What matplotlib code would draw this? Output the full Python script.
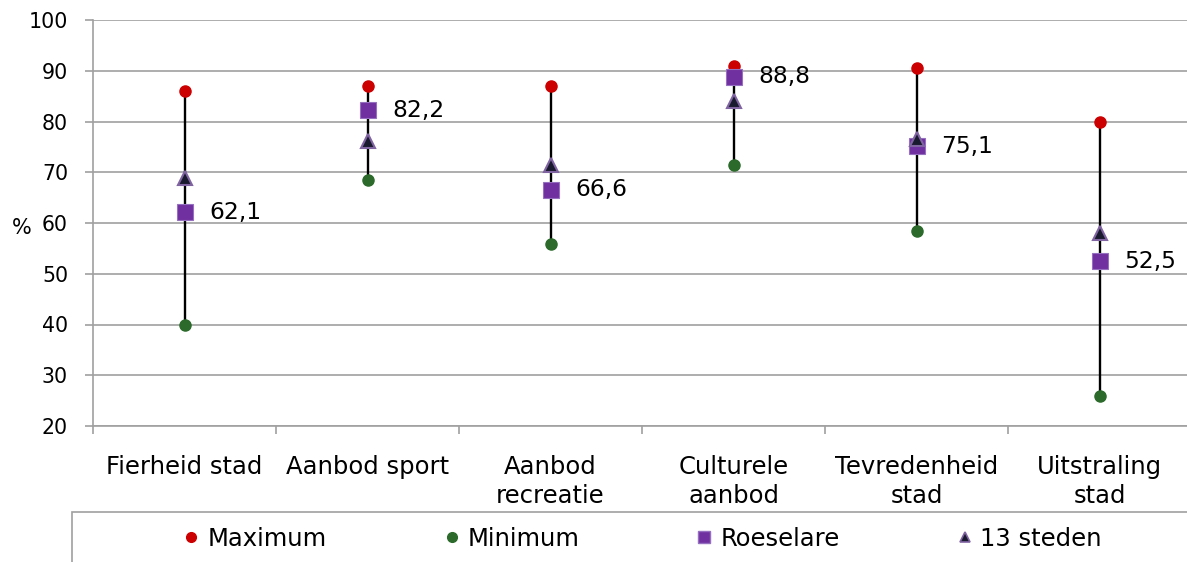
import numpy as np
import matplotlib.pyplot as plt
from matplotlib.lines import Line2D
from matplotlib.patches import Rectangle

plt.rcParams['font.family'] = ['DejaVu Sans']

# data
categories = ['Fierheid stad', 'Aanbod sport', 'Aanbod\nrecreatie',
              'Culturele\naanbod', 'Tevredenheid\nstad', 'Uitstraling\nstad']
maximum = [86.0, 87.0, 87.0, 90.9, 90.5, 80.0]
minimum = [40.0, 68.4, 55.8, 71.5, 58.4, 26.0]
roeselare = [62.1, 82.2, 66.6, 88.8, 75.1, 52.5]
steden13 = [68.9, 76.2, 71.4, 84.0, 76.5, 58.0]

W, H = 1187, 562
fig = plt.figure(figsize=(W / 100, H / 100), dpi=100)
ax = fig.add_axes([93 / W, 1 - 426 / H, (1191 - 93) / W, (426 - 20) / H])

x = np.arange(len(categories))
grid_col = '#A0A0A0'

# min-max lines
ax.vlines(x, minimum, maximum, color='black', lw=1.7, zorder=3)

ax.plot(x, maximum, 'o', color='#CC0000', ms=8, ls='none', zorder=4)
ax.plot(x, minimum, 'o', color='#2B6A2B', ms=8, ls='none', zorder=4)
ax.plot(x, roeselare, 's', color='#7030A0', mec='#9670C0', mew=0.8, ms=11,
        ls='none', zorder=5)
ax.plot(x, steden13, '^', color='#1A1A2E', mec='#8064A2', mew=1.5, ms=9.5,
        ls='none', zorder=6)

for xi, v in zip(x, roeselare):
    ax.annotate(f'{v:.1f}'.replace('.', ','), (xi, v), xytext=(18, 0),
                textcoords='offset points', ha='left', va='center',
                fontsize=16.8, zorder=7)

# axes styling
ax.set_xlim(-0.5, len(categories) - 0.5)
ax.set_ylim(20, 100)
ax.set_yticks(np.arange(20, 101, 10))
ax.yaxis.grid(True, color=grid_col, lw=1.2)
ax.set_axisbelow(True)
for s in ['top', 'right']:
    ax.spines[s].set_visible(False)
for s in ['left', 'bottom']:
    ax.spines[s].set_color(grid_col)
    ax.spines[s].set_linewidth(1.2)
ax.tick_params(axis='y', length=6, color=grid_col, width=1.2, pad=12,
               labelsize=14.8)
ax.set_xticks(x)
ax.set_xticklabels(categories, fontsize=17.5, linespacing=1.25)
ax.set_xticks(np.arange(-0.5, len(categories)), minor=True)
ax.tick_params(axis='x', which='major', length=0, pad=21)
ax.tick_params(axis='x', which='minor', length=6, color=grid_col, width=1.2)

fig.text(22 / W, 1 - 228 / H, '%', ha='center', va='center', fontsize=15)

# legend box
fig.patches.append(Rectangle((72 / W, -0.2), 1.2, 0.2 + (562 - 512) / H,
                             transform=fig.transFigure, fill=False,
                             edgecolor=grid_col, lw=1.2))
handles = [
    Line2D([], [], marker='o', color='#CC0000', ms=7, ls='none'),
    Line2D([], [], marker='o', color='#2B6A2B', ms=7, ls='none'),
    Line2D([], [], marker='s', color='#7030A0', mec='#9670C0', ms=9, ls='none'),
    Line2D([], [], marker='^', color='#1A1A2E', mec='#8064A2', mew=1.2, ms=7,
           ls='none'),
]
fig.legend(handles, ['Maximum', 'Minimum', 'Roeselare', '13 steden'],
           loc='center', bbox_to_anchor=(643 / W, 1 - 539 / H), ncol=4,
           frameon=False, fontsize=17.5, handlelength=0.6, handletextpad=0.35,
           columnspacing=4.85)

fig.savefig('out.png', dpi=100)
